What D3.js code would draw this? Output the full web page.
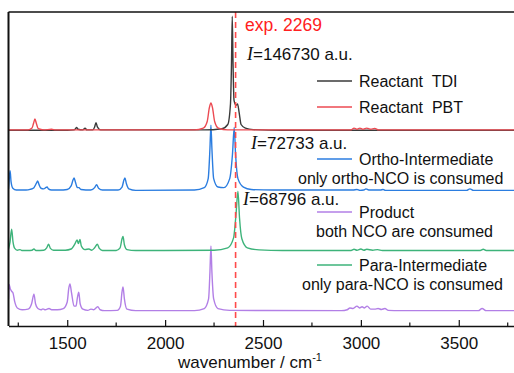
<!DOCTYPE html>
<html>
<head>
<meta charset="utf-8">
<script src="https://cdn.jsdelivr.net/npm/d3@7"></script>
<style>
  body { margin: 0; background: #fff; }
  svg { display: block; font-family: "Liberation Sans", Arial, sans-serif; }
  text { white-space: pre; }
</style>
</head>
<body>
<div id="chart"></div>
<script>
// spectra, [wavenumber, intensity] (intensity in panel units)
var tdi = [[1200,0.005],[1500,0.005],[1535,0.01],[1542,0.03],[1548,0.05],[1555,0.02],[1580,0.01],[1591,0.04],[1600,0.01],[1630,0.01],[1640,0.06],[1647,0.13],[1654,0.06],[1670,0.01],[2200,0.01],[2290,0.03],[2320,0.1],[2334,0.45],[2339,1.1],[2343,1.9],[2347,1.1],[2352,0.5],[2362,0.42],[2370,0.44],[2378,0.3],[2388,0.1],[2410,0.04],[2450,0.015],[2600,0.005],[3800,0.005]];
var pbt = [[1200,0.01],[1300,0.01],[1320,0.04],[1328,0.12],[1335,0.19],[1342,0.12],[1352,0.03],[1380,0.01],[1420,0.02],[1440,0.01],[1500,0.01],[2150,0.01],[2195,0.04],[2215,0.15],[2226,0.38],[2234,0.46],[2242,0.38],[2253,0.15],[2272,0.04],[2320,0.01],[2950,0.01],[2965,0.04],[2980,0.02],[2995,0.04],[3010,0.02],[3030,0.04],[3050,0.02],[3070,0.035],[3090,0.01],[3800,0.01]];
var ortho = [[1200,0.03],[1204,0.2],[1208,0.33],[1213,0.15],[1222,0.04],[1240,0.01],[1290,0.01],[1310,0.02],[1330,0.05],[1342,0.12],[1349,0.16],[1356,0.1],[1366,0.04],[1380,0.03],[1390,0.05],[1397,0.06],[1404,0.03],[1420,0.01],[1460,0.01],[1500,0.02],[1520,0.08],[1530,0.18],[1535,0.21],[1542,0.14],[1552,0.05],[1560,0.05],[1570,0.02],[1620,0.01],[1640,0.05],[1650,0.1],[1660,0.04],[1680,0.01],[1760,0.01],[1780,0.06],[1790,0.18],[1795,0.21],[1802,0.12],[1815,0.03],[1850,0.005],[2150,0.01],[2200,0.05],[2220,0.2],[2229,0.7],[2234,1.09],[2239,0.7],[2248,0.2],[2270,0.06],[2300,0.05],[2330,0.2],[2344,0.6],[2353,1.05],[2360,0.6],[2372,0.2],[2400,0.06],[2440,0.02],[2550,0.01],[2960,0.01],[2980,0.02],[2995,0.005],[3015,0.01],[3026,0.03],[3040,0.01],[3100,0.01],[3113,0.02],[3125,0.005],[3540,0.005],[3557,0.03],[3575,0.005],[3800,0.005]];
var greenSpec = [[1200,0.03],[1208,0.15],[1216,0.36],[1223,0.15],[1232,0.04],[1245,0.01],[1259,0.02],[1268,0.005],[1300,0.005],[1320,0.01],[1330,0.03],[1340,0.005],[1380,0.01],[1395,0.05],[1405,0.11],[1414,0.04],[1430,0.01],[1490,0.01],[1520,0.03],[1540,0.12],[1550,0.18],[1557,0.12],[1565,0.19],[1572,0.08],[1590,0.02],[1611,0.03],[1625,0.01],[1640,0.05],[1654,0.11],[1664,0.04],[1680,0.005],[1750,0.005],[1770,0.05],[1780,0.2],[1785,0.24],[1792,0.1],[1805,0.02],[1850,0.005],[2250,0.01],[2320,0.05],[2350,0.22],[2362,0.6],[2372,0.99],[2380,0.55],[2392,0.2],[2420,0.05],[2480,0.015],[2600,0.005],[2950,0.005],[2965,0.025],[2980,0.01],[3000,0.03],[3015,0.01],[3030,0.025],[3060,0.01],[3085,0.02],[3110,0.005],[3610,0.005],[3625,0.025],[3640,0.005],[3800,0.005]];
var purpleSpec = [[1200,0.2],[1203,0.44],[1210,0.36],[1218,0.32],[1223,0.3],[1232,0.15],[1245,0.05],[1270,0.02],[1300,0.03],[1318,0.12],[1330,0.28],[1338,0.12],[1350,0.04],[1366,0.02],[1376,0.035],[1388,0.02],[1407,0.04],[1420,0.02],[1450,0.02],[1480,0.04],[1500,0.15],[1508,0.38],[1514,0.45],[1522,0.3],[1535,0.08],[1545,0.08],[1552,0.22],[1559,0.31],[1566,0.12],[1580,0.03],[1605,0.01],[1621,0.03],[1635,0.02],[1656,0.07],[1668,0.02],[1690,0.005],[1755,0.01],[1772,0.08],[1780,0.32],[1785,0.40],[1792,0.2],[1805,0.03],[1850,0.005],[2150,0.005],[2200,0.04],[2222,0.2],[2229,0.65],[2234,1.08],[2239,0.65],[2248,0.2],[2270,0.04],[2330,0.01],[2900,0.005],[2930,0.02],[2944,0.05],[2960,0.04],[2980,0.08],[2993,0.05],[3006,0.07],[3018,0.05],[3032,0.08],[3050,0.03],[3070,0.03],[3088,0.04],[3105,0.025],[3123,0.04],[3140,0.01],[3200,0.005],[3600,0.005],[3619,0.04],[3640,0.005],[3800,0.005]];

var xTicks = [1500, 2000, 2500, 3000, 3500];
var xMinor = [1250, 1750, 2250, 2750, 3250, 3750];
var expLine = 2360;
var expLabel = "exp. 2269";
var intensityLabels = ["=146730 a.u.", "=72733 a.u.", "=68796 a.u."];

// draw order: offset is the panel the spectrum sits in
var spectra = [
  { data: purpleSpec, offset: 0, color: "#b27fe6" },
  { data: greenSpec,  offset: 1, color: "#3db37a" },
  { data: ortho,      offset: 2, color: "#2b7de0" },
  { data: tdi,        offset: 3, color: "#3a3a3a" },
  { data: pbt,        offset: 3, color: "#ec4a52" }
];

var legend = [
  { color: "#3a3a3a", y: 81,  lines: ["Reactant  TDI"] },
  { color: "#ec4a52", y: 107, lines: ["Reactant  PBT"] },
  { color: "#2b7de0", y: 159, lines: ["Ortho-Intermediate", "only ortho-NCO is consumed"], x2: 298 },
  { color: "#b27fe6", y: 212, lines: ["Product", "both NCO are consumed"], x2: 316 },
  { color: "#3db37a", y: 265, lines: ["Para-Intermediate", "only para-NCO is consumed"], x2: 302 }
];

var w = 514, h = 373;
var padLeft = 8.5, padTop = 12, axisY = 326;

var svg = d3.select("#chart").append("svg")
  .attr("width", w)
  .attr("height", h);

var x = d3.scaleLinear().domain([1200, 3800]).range([padLeft, 517.5]);
var y = d3.scaleLinear().domain([-0.25, 4.97]).range([axisY, padTop]);

svg.append("clipPath").attr("id", "plot")
  .append("rect").attr("x", padLeft).attr("y", padTop).attr("width", w - padLeft).attr("height", axisY - padTop);

spectra.forEach(function(s) {
  var line = d3.line()
    .x(function(d) { return x(d[0]); })
    .y(function(d) { return y(d[1] + s.offset); })
    .curve(d3.curveMonotoneX);
  svg.append("path")
    .datum(s.data)
    .attr("clip-path", "url(#plot)")
    .attr("fill", "none")
    .attr("stroke", s.color)
    .attr("stroke-width", 1.4)
    .attr("d", line);
});

// exp. line
svg.append("line")
  .attr("x1", x(expLine)).attr("x2", x(expLine))
  .attr("y1", padTop).attr("y2", axisY)
  .attr("stroke", "#ff4a4a")
  .attr("stroke-width", 1.6)
  .attr("stroke-dasharray", "6,4");

// frame: top line + left axis
svg.append("line").attr("x1", padLeft).attr("x2", w).attr("y1", padTop).attr("y2", padTop)
  .attr("stroke", "#111").attr("stroke-width", 1.3);
svg.append("line").attr("x1", padLeft).attr("x2", padLeft).attr("y1", padTop).attr("y2", axisY)
  .attr("stroke", "#111").attr("stroke-width", 2);

// bottom axis, ticks pointing inward
var xAxis = d3.axisBottom(x).tickValues(xTicks).tickFormat(d3.format("d"))
  .tickSizeInner(-6).tickSizeOuter(0).tickPadding(11);
var gx = svg.append("g")
  .attr("transform", "translate(0," + axisY + ")")
  .call(xAxis);
gx.select(".domain").attr("stroke", "#111").attr("stroke-width", 1.5);
gx.selectAll(".tick line").attr("stroke", "#111").attr("stroke-width", 1.2);
gx.selectAll(".tick text")
  .attr("font-size", "17px")
  .attr("font-family", "Liberation Sans, Arial, sans-serif")
  .attr("fill", "#111");

gx.selectAll(".minor").data(xMinor).enter()
  .append("line")
  .attr("class", "minor")
  .attr("x1", function(d) { return x(d); })
  .attr("x2", function(d) { return x(d); })
  .attr("y1", 0).attr("y2", -3.5)
  .attr("stroke", "#111").attr("stroke-width", 1.2);

var title = svg.append("text")
  .attr("x", 250).attr("y", 368)
  .attr("text-anchor", "middle")
  .attr("font-size", "17px")
  .attr("fill", "#111");
title.append("tspan").text("wavenumber / cm");
title.append("tspan").attr("font-size", "11px").attr("dy", -7).text("-1");

svg.append("text")
  .attr("x", 245).attr("y", 31)
  .attr("font-size", "17.5px")
  .attr("fill", "#ff2020")
  .text(expLabel);

var iPos = [[247, 60], [251, 149], [243, 205]];
intensityLabels.forEach(function(t, i) {
  var tx = svg.append("text")
    .attr("x", iPos[i][0]).attr("y", iPos[i][1])
    .attr("font-size", "17px")
    .attr("fill", "#111");
  tx.append("tspan")
    .attr("font-family", "Liberation Serif, Times New Roman, serif")
    .attr("font-style", "italic")
    .attr("font-size", "18px")
    .text("I");
  tx.append("tspan").text(t);
});

legend.forEach(function(l) {
  svg.append("line")
    .attr("x1", 317).attr("x2", 352)
    .attr("y1", l.y).attr("y2", l.y)
    .attr("stroke", l.color).attr("stroke-width", 1.3);
  svg.append("text")
    .attr("x", 359).attr("y", l.y + 6)
    .attr("font-size", "16px")
    .attr("fill", "#111")
    .text(l.lines[0]);
  if (l.lines[1]) {
    svg.append("text")
      .attr("x", l.x2).attr("y", l.y + 25)
      .attr("font-size", "16px")
      .attr("fill", "#111")
      .text(l.lines[1]);
  }
});
</script>
</body>
</html>
